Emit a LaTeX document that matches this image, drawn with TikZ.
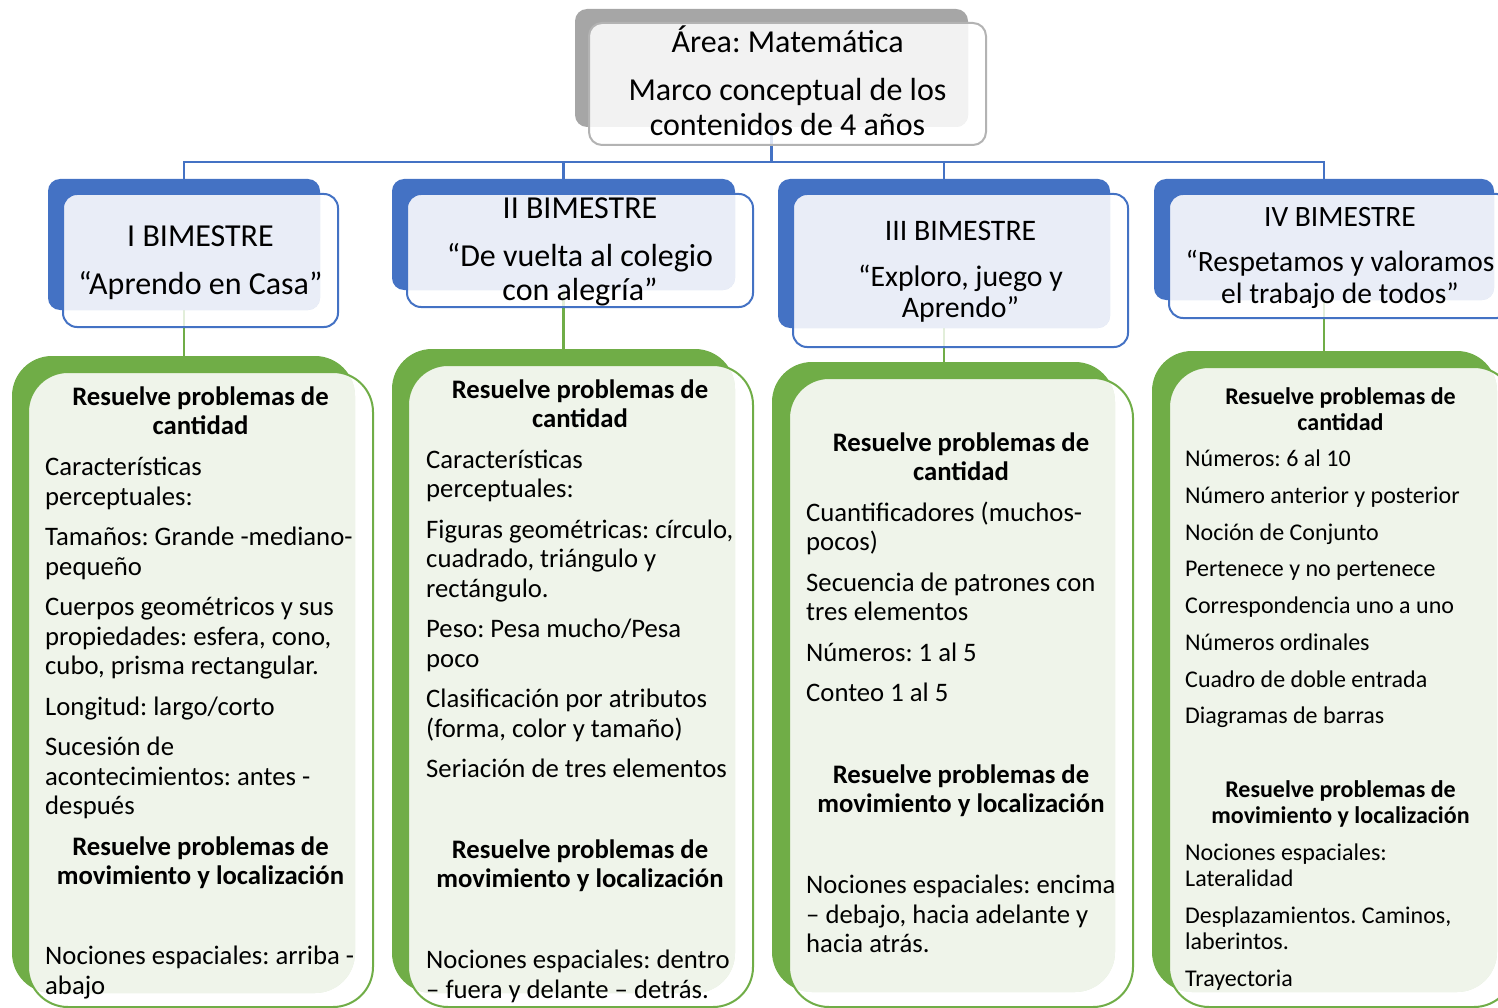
\documentclass[tikz,border=0pt]{standalone}
\usepackage{fontspec}
\setmainfont{Carlito}
\frenchspacing
\usetikzlibrary{backgrounds}
\definecolor{bluebar}{HTML}{4472C4}
\definecolor{bluefill}{HTML}{E9EDF7}
\definecolor{greenbar}{HTML}{70AD47}
\definecolor{greenfill}{HTML}{EFF4EA}
\definecolor{graybar}{HTML}{A6A6A6}
\definecolor{grayfill}{HTML}{F2F2F2}
\tikzset{
  backbox/.style={inner sep=0pt,outer sep=0pt,draw=none},
  bline/.style={draw=bluebar,line width=2.6pt},
  gline/.style={draw=greenbar,line width=2.6pt},
  headtext/.style={align=center,inner sep=0pt,font=\fontsize{32}{34}\selectfont},
  titletext/.style={align=center,inner sep=0pt,font=\bfseries\fontsize{26.7}{29}\selectfont},
  bodytext/.style={align=left,inner sep=0pt,anchor=north west,font=\fontsize{26.7}{29.5}\selectfont}
}
\begin{document}
\begin{tikzpicture}[x=1pt,y=-1pt]
\useasboundingbox (0,0) rectangle (1498,1008);
% top box
\node[backbox,fill=graybar,rounded corners=12pt,minimum width=393pt,minimum height=118pt](top) at (771.5,68) {};
\fill[white,fill opacity=.8,rounded corners=13pt] (589,23) rectangle (986,145);
\begin{scope}
  \clip[rounded corners=12pt] (575,9) rectangle (968,127);
  \fill[grayfill,rounded corners=13pt] (589,23) rectangle (986,145);
\end{scope}
\draw[graybar!85,line width=2pt,rounded corners=13pt] (589,23) rectangle (986,145);
% bimestres
\foreach \i/\xa/\ya/\xb/\yb/\xc/\yc/\xd/\yd in {1/48/179/320/310/63/194/338/327,2/392/179/735/290/407/194/753/307,3/778/179/1110/328/793/194/1128/347,4/1154/179/1494/300/1169/194/1511/318}{
  \node[backbox,fill=bluebar,rounded corners=12pt,minimum width={(\xb-\xa)*1pt},minimum height={(\yb-\ya)*1pt}](h\i) at ({(\xa+\xb)/2},{(\ya+\yb)/2}) {};
  \fill[white,fill opacity=.8,rounded corners=14pt] (\xc,\yc) rectangle (\xd,\yd);
  \begin{scope}
    \clip[rounded corners=12pt] (\xa,\ya) rectangle (\xb,\yb);
    \fill[bluefill,rounded corners=14pt] (\xc,\yc) rectangle (\xd,\yd);
  \end{scope}
  \draw[bluebar,line width=2pt,rounded corners=14pt] (\xc,\yc) rectangle (\xd,\yd);
}
% contenidos
\foreach \i/\xa/\ya/\xb/\yb/\xc/\yc/\xd/\yd in {1/12/356/355/993/28/372/373/1007,2/392/349/735/993/408/365/753/1007,3/772/362/1115/992/789/378/1133/1007,4/1152/351/1497/992/1169/367/1514/1007}{
  \node[backbox,fill=greenbar,rounded corners=40pt,minimum width={(\xb-\xa)*1pt},minimum height={(\yb-\ya)*1pt}](g\i) at ({(\xa+\xb)/2},{(\ya+\yb)/2}) {};
  \fill[white,fill opacity=.8,rounded corners=40pt] (\xc,\yc) rectangle (\xd,\yd);
  \begin{scope}
    \clip[rounded corners=40pt] (\xa,\ya) rectangle (\xb,\yb);
    \fill[greenfill,rounded corners=40pt] (\xc,\yc) rectangle (\xd,\yd);
  \end{scope}
  \draw[greenbar,line width=2pt,rounded corners=40pt] (\xc,\yc) rectangle (\xd,\yd);
}
% connectors
\coordinate (bus) at (771.5,162);
\begin{scope}[on background layer]
  \draw[bline] (top.south) -- (bus);
  \foreach \i in {1,...,4}{
    \draw[bline] (bus) -| (h\i.north);
    \draw[gline] (h\i.south) -- (h\i.south |- g\i.north);
  }
\end{scope}
% texts
\node[headtext,font=\fontsize{32}{35}\selectfont](toptext) at (787.5,81) {Área: Matemática\\[13pt]Marco conceptual de los\\contenidos de 4 años};
\node[headtext](ht1) at (200.5,263) {I BIMESTRE\\[14pt]“Aprendo en Casa”};
\node[headtext](ht2) at (580,252) {II BIMESTRE\\[14pt]“De vuelta al colegio\\con alegría”};
\node[headtext,font=\fontsize{29.8}{31}\selectfont](ht3) at (960.5,272) {III BIMESTRE\\[15pt]“Exploro, juego y\\Aprendo”};
\node[headtext,font=\fontsize{29.5}{32}\selectfont](ht4) at (1340,258) {IV BIMESTRE\\[13pt]“Respetamos y valoramos\\el trabajo de todos”};

\node[titletext](q1) at (200.5,411) {Resuelve problemas de\\cantidad};
\node[bodytext](b1) at (45,457) {Características\\perceptuales:\\[11pt]Tamaños: Grande -mediano-\\pequeño\\[11pt]Cuerpos geométricos y sus\\propiedades: esfera, cono,\\cubo, prisma rectangular.\\[11pt]Longitud: largo/corto\\[11pt]Sucesión de\\acontecimientos: antes -\\después};
\node[titletext](m1) at (200.5,863) {Resuelve problemas de\\movimiento y localización};
\node[bodytext](n1) at (45,946) {Nociones espaciales: arriba -\\abajo};

\node[titletext](q2) at (580,404) {Resuelve problemas de\\cantidad};
\node[bodytext](b2) at (426,449.5) {Características\\perceptuales:\\[11pt]Figuras geométricas: círculo,\\cuadrado, triángulo y\\rectángulo.\\[11pt]Peso: Pesa mucho/Pesa\\poco\\[11pt]Clasificación por atributos\\(forma, color y tamaño)\\[11pt]Seriación de tres elementos};
\node[titletext](m2) at (580,866) {Resuelve problemas de\\movimiento y localización};
\node[bodytext](n2) at (426,950) {Nociones espaciales: dentro\\– fuera y delante – detrás.};

\node[titletext](q3) at (961,457) {Resuelve problemas de\\cantidad};
\node[bodytext](b3) at (806,501.5) {Cuantificadores (muchos-\\pocos)\\[11pt]Secuencia de patrones con\\tres elementos\\[11pt]Números: 1 al 5\\[11pt]Conteo 1 al 5};
\node[titletext](m3) at (961,791) {Resuelve problemas de\\movimiento y localización};
\node[bodytext](n3) at (806,875) {Nociones espaciales: encima\\– debajo, hacia adelante y\\hacia atrás.};

\node[titletext,font=\bfseries\fontsize{24}{26.5}\selectfont](q4) at (1340.5,409) {Resuelve problemas de\\cantidad};
\node[bodytext,font=\fontsize{24}{26.5}\selectfont](b4) at (1185,450) {Números: 6 al 10\\[10.2pt]Número anterior y posterior\\[10.2pt]Noción de Conjunto\\[10.2pt]Pertenece y no pertenece\\[10.2pt]Correspondencia uno a uno\\[10.2pt]Números ordinales\\[10.2pt]Cuadro de doble entrada\\[10.2pt]Diagramas de barras};
\node[titletext,font=\bfseries\fontsize{24}{26.5}\selectfont](m4) at (1340.5,804) {Resuelve problemas de\\movimiento y localización};
\node[bodytext,font=\fontsize{24}{26.5}\selectfont](n4) at (1185,843.5) {Nociones espaciales:\\Lateralidad\\[10pt]Desplazamientos. Caminos,\\laberintos.\\[10pt]Trayectoria};
\end{tikzpicture}
\end{document}
